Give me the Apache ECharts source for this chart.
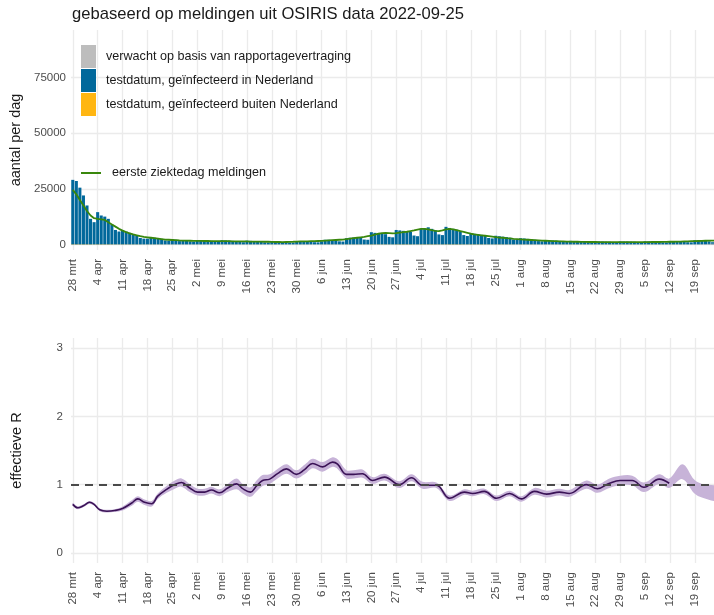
<!DOCTYPE html>
<html><head><meta charset="utf-8">
<script src="https://cdn.jsdelivr.net/npm/echarts@6/dist/echarts.min.js"></script>
<style>html,body{margin:0;padding:0;background:#fff}#c{width:714px;height:615px}</style>
</head><body><div id="c"></div>
<script>
// day index 0 = 28 mrt 2022
const tickDays = [0,7,14,21,28,35,42,49,56,63,70,77,84,91,98,105,112,119,126,133,140,147,154,161,168,175];
const tickLabels = ['28 mrt','4 apr','11 apr','18 apr','25 apr','2 mei','9 mei','16 mei','23 mei','30 mei','6 jun','13 jun','20 jun','27 jun','4 jul','11 jul','18 jul','25 jul','1 aug','8 aug','15 aug','22 aug','29 aug','5 sep','12 sep','19 sep'];

const nlCases = [
29000,28500,25500,22000,17500,11500,10000,
14500,13000,12500,11500,9000,6500,5800,
6500,5800,5200,4700,3800,2900,2600,
2600,3300,3000,2800,2500,1800,1700,
2300,2100,1500,2000,1900,1400,1300,
2000,1900,1800,1700,1600,1200,1100,
1900,1800,1700,1600,1500,1100,1000,
1700,1600,1500,1400,1300,950,900,
1500,1400,1300,1000,1100,850,800,
1500,1500,1450,1400,1300,1000,950,
1400,2100,2100,2000,1900,1400,1300,
2800,3000,3100,3100,3000,2200,2100,
5500,5200,4900,4800,4600,3400,3200,
6500,6300,6100,5900,5600,4000,3700,
7000,7200,7700,7000,6400,4500,4200,
7900,7400,7000,6600,5900,4200,3800,
5000,4800,4600,4300,4000,2900,2700,
3900,3700,3500,3300,3000,2200,2000,
2800,2700,2500,2300,2100,1500,1400,
2000,1900,1800,1700,1600,1200,1100,
1600,1500,1500,1400,1300,950,900,
1400,1350,1300,1250,1200,900,850,
1350,1300,1300,1250,1200,900,850,
1400,1350,1300,1300,1250,950,900,
1450,1400,1400,1350,1300,1000,950,
1900,1800,1700,1600,1400,1000,700
];
const abroadCases = [
300,300,280,260,240,180,160,
220,200,200,190,170,130,120,
150,140,130,120,110,90,80,
90,100,100,90,90,70,60,
80,80,60,80,70,60,50,
80,70,70,70,60,50,50,
80,70,70,60,60,50,50,
70,70,60,60,60,50,40,
70,60,60,50,50,40,40,
70,70,70,60,60,50,50,
70,90,90,90,80,60,60,
110,120,120,120,110,90,80,
180,170,160,160,150,110,100,
210,200,200,190,180,130,120,
230,240,250,230,210,150,140,
260,250,230,220,200,140,130,
190,180,170,160,150,110,100,
160,150,140,130,120,90,80,
130,120,110,100,90,70,60,
100,90,90,80,80,60,50,
80,80,70,70,60,50,40,
70,70,60,60,60,40,40,
60,60,60,60,50,40,40,
60,60,60,60,50,40,40,
60,60,60,60,50,40,40,
70,70,60,60,50,40,30
];
const expectedCases = [
0,0,0,0,0,0,0, 0,0,0,0,0,0,0, 0,0,0,0,0,0,0, 0,0,0,0,0,0,0,
0,0,0,0,0,0,0, 0,0,0,0,0,0,0, 0,0,0,0,0,0,0, 0,0,0,0,0,0,0,
0,0,0,0,0,0,0, 0,0,0,0,0,0,0, 0,0,0,0,0,0,0, 0,0,0,0,0,0,0,
0,0,0,0,0,0,0, 0,0,0,0,0,0,0, 0,0,0,0,0,0,0, 0,0,0,0,0,0,0,
0,0,0,0,0,0,0, 0,0,0,0,0,0,0, 0,0,0,0,0,0,0, 0,0,0,0,0,0,0,
0,0,0,0,0,0,0, 0,0,0,0,0,0,0, 0,0,0,0,0,0,0, 0,0,0,0,0,0,0,
0,0,0,0,0,0,0,
0,20,60,120,250,350,700
];
const onsetCases = [
24500,22500,20000,17500,15000,13000,11800,
11500,11300,11000,10000,9000,8000,7000,
6200,5500,5000,4500,4100,3700,3400,
3200,3000,2800,2600,2400,2200,2100,
2000,1900,1800,1750,1700,1650,1600,
1600,1600,1550,1550,1500,1500,1500,
1500,1450,1450,1400,1400,1400,1350,
1350,1300,1300,1250,1250,1200,1200,
1150,1100,1100,1050,1100,1150,1200,
1300,1350,1400,1400,1450,1500,1550,
1600,1700,1800,1900,2000,2100,2200,
2400,2600,2800,3000,3200,3400,3700,
4000,4400,4800,5100,5200,5100,5000,
5100,5300,5500,5700,6000,6300,6700,
7000,7000,6800,6400,6100,6000,6300,
6800,7000,6800,6400,6000,5600,5200,
4800,4500,4300,4100,3900,3700,3500,
3300,3100,3000,2800,2700,2500,2400,
2300,2200,2100,2000,1900,1800,1700,
1650,1600,1500,1450,1400,1350,1300,
1250,1200,1200,1150,1150,1100,1100,
1100,1050,1050,1050,1000,1000,1000,
1000,1000,1000,1000,1000,1000,1050,
1050,1050,1100,1100,1100,1150,1150,
1200,1200,1250,1300,1350,1400,1450,
1500,1550,1600,1650,1700,1700,1700
];

const rDays = [0,1.4,3,4.7,6,7.6,9.6,11.8,14,16.6,18.3,20.2,22.2,23.9,26.4,28.7,30.6,32.9,35.1,37.1,39,41.3,43.6,46.1,47.8,50,51.7,53.4,55.4,57.6,60.1,62.9,65.2,67.5,70.3,73.1,74.5,77,79,81.5,84.3,87.7,91.9,95.3,98.4,102.3,106,110.2,112.5,115.8,119.2,122.9,126.2,129.9,133.3,136.9,139.7,144.5,147.6,151,154,157.4,160.7,165,167.8,171.5,174.9,177,181];
const rValues = [0.71,0.66,0.69,0.74,0.71,0.63,0.61,0.62,0.65,0.73,0.79,0.74,0.72,0.83,0.93,1.00,1.03,0.95,0.89,0.89,0.92,0.88,0.95,1.01,0.94,0.89,0.98,1.06,1.08,1.16,1.23,1.15,1.22,1.31,1.26,1.33,1.30,1.15,1.15,1.16,1.06,1.11,1.00,1.10,0.99,0.99,0.80,0.89,0.87,0.90,0.80,0.87,0.79,0.90,0.86,0.89,0.87,1.00,0.94,1.02,1.06,1.06,0.96,1.08,1.02,null,null,null,null];
const rLow = [0.69,0.64,0.67,0.72,0.69,0.61,0.59,0.60,0.62,0.69,0.75,0.70,0.68,0.79,0.88,0.94,0.97,0.89,0.84,0.84,0.87,0.83,0.89,0.93,0.87,0.82,0.90,0.98,1.01,1.09,1.16,1.09,1.15,1.24,1.19,1.26,1.23,1.09,1.09,1.10,1.01,1.06,0.95,1.05,0.94,0.95,0.76,0.85,0.83,0.86,0.76,0.83,0.75,0.85,0.81,0.84,0.82,0.94,0.88,0.95,0.99,0.99,0.89,1.01,0.95,1.08,0.87,0.81,0.77];
const rHigh = [0.73,0.68,0.71,0.76,0.73,0.65,0.63,0.64,0.68,0.77,0.83,0.78,0.76,0.87,0.98,1.06,1.09,1.01,0.94,0.94,0.97,0.93,1.01,1.09,1.01,0.96,1.06,1.14,1.15,1.23,1.30,1.21,1.29,1.38,1.33,1.40,1.37,1.21,1.21,1.22,1.11,1.16,1.05,1.15,1.04,1.03,0.84,0.93,0.91,0.94,0.84,0.91,0.83,0.95,0.91,0.94,0.92,1.06,1.00,1.09,1.13,1.13,1.03,1.15,1.09,1.30,1.07,1.01,0.97];

const chart = echarts.init(document.getElementById('c'), null, {renderer:'canvas'});
const fontFam = 'Liberation Sans, Arial, sans-serif';
const grid = '#ebebeb';
const axLab = {color:'#4d4d4d', fontSize:11.5, fontFamily:fontFam};
function xAxisFor(gi){
  return {type:'value', gridIndex:gi, min:-0.5, max:180.4,
    axisLine:{show:false}, axisTick:{show:false, customValues:tickDays},
    splitLine:{show:true, lineStyle:{color:grid, width:1.3}},
    axisLabel:Object.assign({customValues:tickDays, rotate:90, margin:9,
      formatter:v=>tickLabels[tickDays.indexOf(v)]}, axLab)};
}
const idx = a => a.map((v,i)=>[i,v]);
const pairs = (xs,ys) => xs.map((x,i)=>[x,ys[i]]);
const bandData = rDays.map((d,i)=>[d, rLow[i], rHigh[i]]);
const option = {
  animation:false,
  backgroundColor:'#fff',
  textStyle:{fontFamily:fontFam},
  title:{text:'gebaseerd op meldingen uit OSIRIS data 2022-09-25', left:67, top:1,
    textStyle:{fontSize:16.6, fontWeight:'normal', color:'#1a1a1a', fontFamily:fontFam}},
  legend:[
    {data:['verwacht op basis van rapportagevertraging','testdatum, geïnfecteerd in Nederland','testdatum, geïnfecteerd buiten Nederland'],
     orient:'vertical', left:76, top:40, itemWidth:15, itemHeight:23, itemGap:1, icon:'rect',
     textStyle:{fontSize:12.6, color:'#1a1a1a', padding:[0,0,0,5], fontFamily:fontFam}},
    {data:['eerste ziektedag meldingen'], left:76, top:161.5, itemWidth:20, itemHeight:2, icon:'rect',
     textStyle:{fontSize:12.6, color:'#1a1a1a', padding:[0,0,0,6], fontFamily:fontFam}}
  ],
  grid:[{left:71,right:0,top:30,height:220},{left:71,right:0,top:338,height:225}],
  xAxis:[xAxisFor(0), xAxisFor(1)],
  yAxis:[
    {type:'value', gridIndex:0, min:-2500, max:96300,
     axisLine:{show:false}, axisTick:{show:false, customValues:[0,25000,50000,75000]},
     splitLine:{lineStyle:{color:grid, width:1.3}},
     axisLabel:Object.assign({customValues:[0,25000,50000,75000], formatter:v=>String(v), margin:5}, axLab),
     name:'aantal per dag', nameLocation:'middle', nameGap:47,
     nameTextStyle:{fontSize:14.5, color:'#1a1a1a', fontFamily:fontFam}},
    {type:'value', gridIndex:1, min:-0.15, max:3.15,
     axisLine:{show:false}, axisTick:{show:false, customValues:[0,1,2,3]},
     splitLine:{lineStyle:{color:grid, width:1.3}},
     axisLabel:Object.assign({customValues:[0,1,2,3], formatter:v=>String(v), margin:8}, axLab),
     name:'effectieve R', nameLocation:'middle', nameGap:47,
     nameTextStyle:{fontSize:14.5, color:'#1a1a1a', fontFamily:fontFam}}
  ],
  series:[
    {name:'testdatum, geïnfecteerd buiten Nederland', type:'bar', stack:'a', xAxisIndex:0, yAxisIndex:0,
     data:idx(abroadCases), itemStyle:{color:'#ffb612'}, barCategoryGap:'14%'},
    {name:'testdatum, geïnfecteerd in Nederland', type:'bar', stack:'a', xAxisIndex:0, yAxisIndex:0,
     data:idx(nlCases), itemStyle:{color:'#01689b'}, barCategoryGap:'14%'},
    {name:'verwacht op basis van rapportagevertraging', type:'bar', stack:'a', xAxisIndex:0, yAxisIndex:0,
     data:idx(expectedCases), itemStyle:{color:'#bdbdbd'}, barCategoryGap:'14%'},
    {name:'eerste ziektedag meldingen', type:'line', xAxisIndex:0, yAxisIndex:0,
     data:idx(onsetCases), showSymbol:false, lineStyle:{color:'#39870c', width:1.8}, itemStyle:{color:'#39870c'}, z:5},
    {name:'Rband', type:'custom', xAxisIndex:1, yAxisIndex:1, data:[[0,0,0]], silent:true, clip:true,
     renderItem:function(params, api){
       const up = bandData.map(d=>api.coord([d[0], d[2]]));
       const lo = bandData.map(d=>api.coord([d[0], d[1]])).reverse();
       return {type:'polygon', shape:{points:up.concat(lo), smooth:0.35},
               style:{fill:'#c7b3d8', stroke:null}};
     }},
    {name:'R', type:'line', xAxisIndex:1, yAxisIndex:1, data:pairs(rDays,rValues),
     showSymbol:false, smooth:0.4, lineStyle:{color:'#3a1256', width:1.6}, z:4,
     markLine:{silent:true, symbol:'none', label:{show:false},
       lineStyle:{color:'#4a4a4a', type:[8,6], width:2}, data:[{yAxis:1}]}}
  ]
};
chart.setOption(option);
</script></body></html>
